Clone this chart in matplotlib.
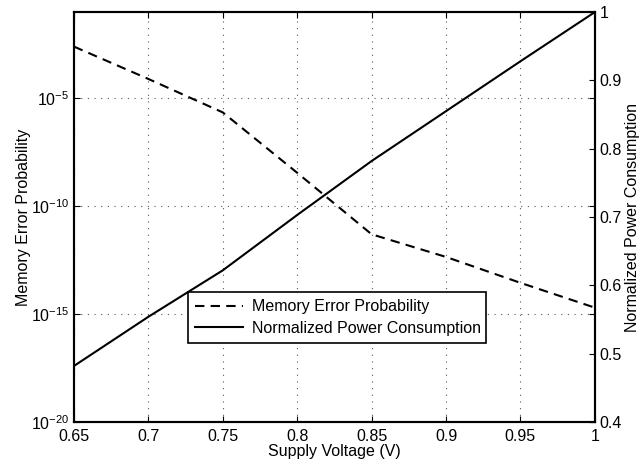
import numpy as np
import matplotlib
matplotlib.use('Agg')
import matplotlib.pyplot as plt

plt.rcParams['font.family'] = ['Liberation Sans', 'DejaVu Sans']

# supply voltage (V)
voltage = [0.65, 0.70, 0.75, 0.80, 0.85, 0.90, 0.95, 1.00]
# log10 of memory error probability
log_err = [-2.6, -4.1, -5.65, -8.45, -11.3, -12.35, -13.55, -14.7]
# normalized power consumption
power = [0.482, 0.554, 0.622, 0.703, 0.782, 0.855, 0.928, 1.0]

err = [10.0**v for v in log_err]

fig = plt.figure(figsize=(6.41, 4.65), dpi=100)
ax1 = fig.add_axes([0.1154, 0.0925, 0.8126, 0.8815])
ax2 = ax1.twinx()

l1, = ax1.semilogy(voltage, err, 'k--', lw=1.5, dashes=(4.5, 3),
                   label='Memory Error Probability')
l2, = ax2.plot(voltage, power, 'k-', lw=1.5,
               label='Normalized Power Consumption')

ax1.set_xlim(0.65, 1.0)
ax1.set_ylim(1e-20, 1e-1)
ax1.set_yticks([1e-20, 1e-15, 1e-10, 1e-5])
ax1.yaxis.set_minor_locator(matplotlib.ticker.NullLocator())
ax1.set_xticks([0.65, 0.7, 0.75, 0.8, 0.85, 0.9, 0.95, 1.0])
ax1.set_xticklabels(['0.65', '0.7', '0.75', '0.8', '0.85', '0.9', '0.95', '1'])
ax1.grid(True, color='0.35', linestyle=(0, (1, 5)), lw=0.8)

ax2.set_ylim(0.4, 1.0)
ax2.set_yticks([0.4, 0.5, 0.6, 0.7, 0.8, 0.9, 1.0])
ax2.set_yticklabels(['0.4', '0.5', '0.6', '0.7', '0.8', '0.9', '1'])

ax1.tick_params(direction='in', top=True, right=True, labelsize=11.5, length=4)
ax2.tick_params(direction='in', labelsize=11.5, length=4)
ax1.tick_params(axis='x', pad=5)

for ax in (ax1, ax2):
    for s in ax.spines.values():
        s.set_linewidth(1.5)

ax1.set_xlabel('Supply Voltage (V)', fontsize=11.5, labelpad=0)
ax1.set_ylabel('Memory Error Probability', fontsize=11.5, labelpad=0)
ax2.set_ylabel('Normalized Power Consumption', fontsize=11.5, labelpad=2)

leg = ax1.legend([l1, l2], [l1.get_label(), l2.get_label()],
                 loc='lower left', bbox_to_anchor=(0.2185, 0.193, 0.572, 0.122),
                 mode='expand', borderaxespad=0, fontsize=11.5, fancybox=False,
                 framealpha=1, edgecolor='k', handlelength=3.0,
                 handletextpad=0.55, borderpad=0.45, labelspacing=0.4)
leg.get_frame().set_linewidth(1.2)

fig.savefig('out.png', dpi=100)
